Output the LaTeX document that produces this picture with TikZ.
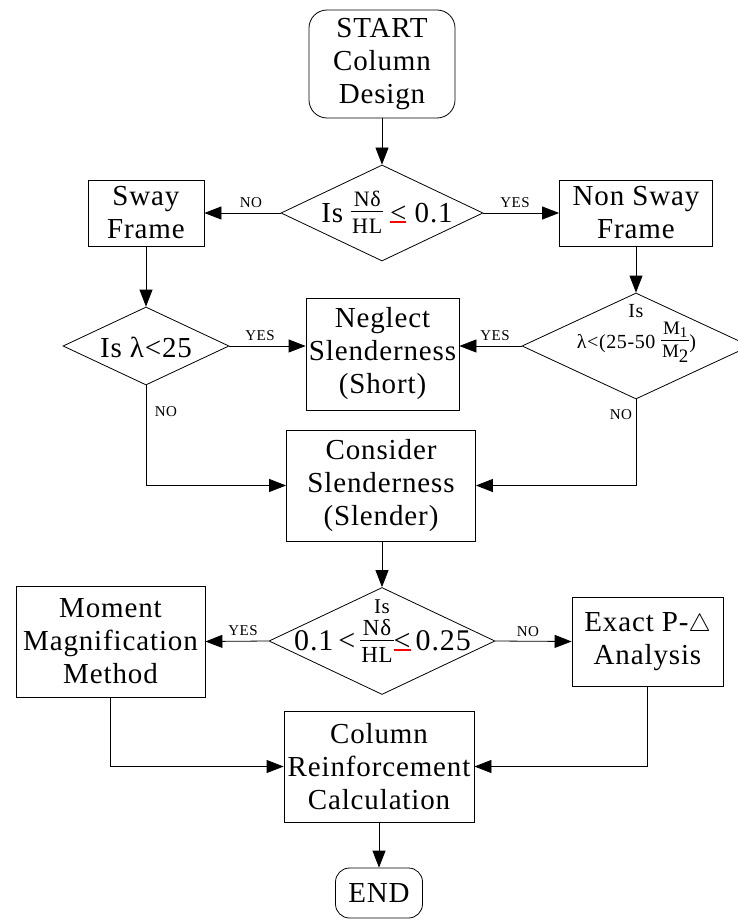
\documentclass[tikz,border=0pt]{standalone}
\usepackage{fontspec}
\setmainfont{Liberation Serif}[LetterSpace=3]
\usetikzlibrary{shapes.geometric,arrows.meta}
\newcommand\fs[1]{\fontsize{#1}{#1}\selectfont}
\newcommand\rle{\leavevmode\rlap{\textcolor{red}{\rule[-0.03em]{0.56em}{0.065em}}}<}
% size, numerator, denominator, numerator raise, denominator drop, rule height
\newcommand\frc[6]{{\fs{#1}\setbox0\hbox{#2}\setbox2\hbox{#3}%
  \dimen0=\wd0\relax\ifdim\wd2>\dimen0 \dimen0=\wd2\fi\advance\dimen0 by 2pt\relax
  \makebox[\dimen0]{\raisebox{#4}{\box0}}\hspace{-\dimen0}%
  \makebox[\dimen0]{\raisebox{-#5}{\box2}}\hspace{-\dimen0}%
  \rule[#6]{\dimen0}{0.9pt}}}
\begin{document}
\begin{tikzpicture}[x=1pt,y=-1pt,line width=0.8pt,
  >={Triangle[length=17pt,width=13pt]},
  box/.style={draw,rectangle,inner sep=0pt,align=center,font={\fontsize{29}{33}\selectfont}},
  dia/.style={draw,diamond,inner sep=0pt,shape aspect=1},
  txt/.style={inner sep=0pt,anchor=base,font={\fontsize{29}{33}\selectfont}},
  lbl/.style={inner sep=0pt,font={\fs{15}}}]
\useasboundingbox (0,0) rectangle (737,920);

% boxes
\node[box,rounded corners=18pt,minimum width=146,minimum height=108] (start) at (382,64) {START\\Column\\Design};
\node[box,minimum width=116,minimum height=66] (sway) at (146,213) {Sway\\Frame};
\node[box,minimum width=153,minimum height=66] (nonsway) at (636,213) {Non Sway\\Frame};
\node[box,minimum width=153,minimum height=112] (neglect) at (382.5,354) {Neglect\\Slenderness\\(Short)};
\node[box,minimum width=189,minimum height=111] (consider) at (381,485.5) {Consider\\Slenderness\\(Slender)};
\node[box,minimum width=189,minimum height=111] (moment) at (110.5,641.5) {Moment\\Magnification\\Method};
\node[box,minimum width=151,minimum height=89] (exact) at (647.5,641.5) {Exact P-$\triangle$\\Analysis};
\node[box,minimum width=190,minimum height=111] (column) at (379,766.5) {Column\\Reinforcement\\Calculation};
\node[box,rounded corners=14pt,minimum width=87,minimum height=50] (end) at (379,893) {END};

% diamonds
\node[dia,minimum width=202,minimum height=96] (d1) at (382,213) {};
\node[txt] (t1) at (387,222) {Is \frc{22}{Nδ}{HL}{15pt}{11.5pt}{10.5pt}\hspace{7pt}\rle\ 0.1};
\node[dia,minimum width=166,minimum height=78] (d2) at (146,346) {};
\node[txt] (t2) at (146,357) {Is λ<25};
\node[dia,minimum width=228,minimum height=106] (d3) at (636,346) {};
\node[txt,font={\fs{20}}] (t3a) at (636,317) {Is};
\node[txt,font={\fs{20}}] (t3b) at (636.5,348) {λ<(25-50 \frc{19}{M\raisebox{-0.2em}{\fs{15}1}}{M\raisebox{-0.25em}{\fs{19}2}}{14pt}{9.5pt}{7.5pt})};
\node[dia,minimum width=226,minimum height=107] (d4) at (382,641) {};
\node[txt,font={\fs{21}}] (t4a) at (382,613) {Is};
\node[txt,font={\fs{30}}] (t4b) at (382.5,650) {0.1\,<\,\frc{23}{Nδ}{HL}{15pt}{12pt}{9.5pt}\rle\,0.25};

% connectors
\draw[->] (start.south) -- (d1.north);
\draw[->] (d1.west) -- (sway.east);
\draw[->] (d1.east) -- (nonsway.west);
\draw[->] (sway.south) -- (d2.north);
\draw[->] (nonsway.south) -- (d3.north);
\draw[->] (d2.east) -- (neglect.west |- d2.east);
\draw[->] (d3.west) -- (neglect.east |- d3.west);
\draw[->] (d2.south) |- (consider.west);
\draw[->] (d3.south) |- (consider.east);
\draw[->] (consider.south -| d4.north) -- (d4.north);
\draw[->] (d4.west) -- (moment.east);
\draw[->] (d4.east) -- (exact.west);
\draw[->] (moment.south) |- (column.west);
\draw[->] (exact.south) |- (column.east);
\draw[->] (column.south) -- (end.north);

% labels
\node[lbl] (l1) at (251,203) {NO};
\node[lbl] (l2) at (515,203) {YES};
\node[lbl] (l3) at (260,336) {YES};
\node[lbl] (l4) at (495,336) {YES};
\node[lbl] (l5) at (166,412) {NO};
\node[lbl] (l6) at (621,415) {NO};
\node[lbl] (l7) at (243,631) {YES};
\node[lbl] (l8) at (528,632) {NO};
\end{tikzpicture}
\end{document}
